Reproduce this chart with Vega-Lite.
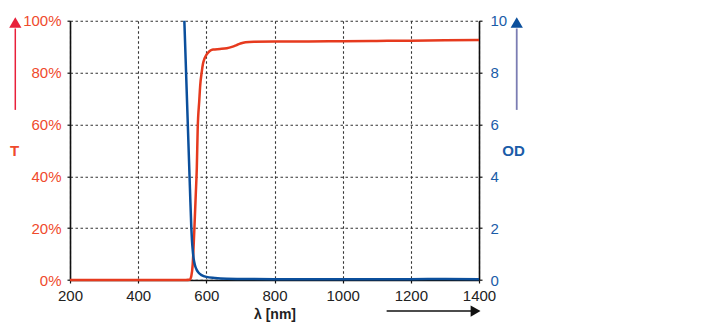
{
  "$schema": "https://vega.github.io/schema/vega-lite/v6.json",
  "width": 409,
  "height": 259.3,
  "autosize": "none",
  "padding": {"left": 70, "top": 20.7, "right": 232, "bottom": 42},
  "background": "white",
  "config": {
    "view": {"stroke": null},
    "font": "Liberation Sans",
    "axis": {
      "domainColor": "#111",
      "domainWidth": 1.6,
      "tickColor": "#111",
      "tickSize": 3,
      "tickWidth": 1.2,
      "gridColor": "#333",
      "gridDash": [2.5, 2.5],
      "gridWidth": 1.1,
      "labelFont": "Liberation Sans",
      "labelFontSize": 15,
      "labelFlush": false,
      "labelOverlap": false,
      "titleFont": "Liberation Sans"
    }
  },
  "datasets": {
    "T": [
      {"lam": 200, "T": 0}, {"lam": 400, "T": 0}, {"lam": 540, "T": 0},
      {"lam": 552, "T": 0.002}, {"lam": 556, "T": 0.015}, {"lam": 560, "T": 0.06},
      {"lam": 562, "T": 0.11}, {"lam": 565, "T": 0.2}, {"lam": 569, "T": 0.33},
      {"lam": 572, "T": 0.43}, {"lam": 574.6, "T": 0.58}, {"lam": 579.4, "T": 0.694},
      {"lam": 582, "T": 0.75}, {"lam": 586.3, "T": 0.8}, {"lam": 590, "T": 0.833},
      {"lam": 595, "T": 0.855}, {"lam": 600, "T": 0.868}, {"lam": 606, "T": 0.878},
      {"lam": 612, "T": 0.885}, {"lam": 620, "T": 0.889}, {"lam": 640, "T": 0.891},
      {"lam": 660, "T": 0.894}, {"lam": 675, "T": 0.899}, {"lam": 689, "T": 0.906},
      {"lam": 700, "T": 0.912}, {"lam": 715, "T": 0.917}, {"lam": 740, "T": 0.919},
      {"lam": 800, "T": 0.92}, {"lam": 900, "T": 0.92}, {"lam": 1000, "T": 0.921},
      {"lam": 1100, "T": 0.922}, {"lam": 1200, "T": 0.923}, {"lam": 1300, "T": 0.925},
      {"lam": 1400, "T": 0.926}
    ],
    "OD": [
      {"lam": 535.5, "OD": 10}, {"lam": 552, "OD": 3.5}, {"lam": 556, "OD": 2},
      {"lam": 558, "OD": 1.5}, {"lam": 560, "OD": 1.16}, {"lam": 563, "OD": 0.8},
      {"lam": 566, "OD": 0.6}, {"lam": 571.7, "OD": 0.39}, {"lam": 578, "OD": 0.27},
      {"lam": 586, "OD": 0.19}, {"lam": 600, "OD": 0.12}, {"lam": 625, "OD": 0.08},
      {"lam": 660, "OD": 0.05}, {"lam": 700, "OD": 0.04}, {"lam": 800, "OD": 0.03},
      {"lam": 1000, "OD": 0.03}, {"lam": 1200, "OD": 0.03}, {"lam": 1300, "OD": 0.04},
      {"lam": 1400, "OD": 0.03}
    ]
  },
  "layer": [
    {
      "data": {"name": "T"},
      "mark": {"type": "line", "color": "#e63a1e", "strokeWidth": 2.5, "interpolate": "monotone"},
      "encoding": {
        "x": {
          "field": "lam", "type": "quantitative",
          "scale": {"domain": [200, 1400], "nice": false, "zero": false},
          "axis": {
            "values": [200, 400, 600, 800, 1000, 1200, 1400],
            "format": "d",
            "grid": true,
            "labelColor": "#222",
            "labelPadding": 5,
            "title": "λ [nm]",
            "titleFontSize": 14,
            "titleFontWeight": "bold",
            "titleColor": "#222",
            "titleBaseline": "middle",
            "titleY": 34
          }
        },
        "y": {
          "field": "T", "type": "quantitative",
          "scale": {"domain": [0, 1], "nice": false},
          "axis": {
            "orient": "left",
            "values": [0, 0.2, 0.4, 0.6, 0.8, 1],
            "format": ".0%",
            "grid": true,
            "labelColor": "#ef4a2c",
            "labelPadding": 6,
            "title": "T",
            "titleAngle": 0,
            "titleColor": "#ef4a2c",
            "titleFontSize": 15,
            "titleFontWeight": "bold",
            "titleAlign": "center",
            "titleBaseline": "middle",
            "titleX": -56,
            "titleY": 130
          }
        }
      }
    },
    {
      "data": {"name": "OD"},
      "mark": {"type": "line", "color": "#0b4f9c", "strokeWidth": 2.5, "interpolate": "monotone"},
      "encoding": {
        "x": {"field": "lam", "type": "quantitative"},
        "y": {
          "field": "OD", "type": "quantitative",
          "scale": {"domain": [0, 10], "nice": false},
          "axis": {
            "orient": "right",
            "values": [0, 2, 4, 6, 8, 10],
            "grid": false,
            "labelColor": "#1a5ca8",
            "labelPadding": 8,
            "title": "OD",
            "titleAngle": 0,
            "titleColor": "#1a5ca8",
            "titleFontSize": 15,
            "titleFontWeight": "bold",
            "titleAlign": "center",
            "titleBaseline": "middle",
            "titleX": 34,
            "titleY": 130
          }
        }
      }
    },
    {
      "data": {"values": [{}]},
      "mark": {"type": "rule", "color": "#e8203a", "strokeWidth": 1.5, "clip": false},
      "encoding": {
        "x": {"datum": 39.5, "type": "quantitative"},
        "y": {"datum": 0.656, "type": "quantitative", "scale": {"domain": [0, 1], "nice": false}, "axis": null},
        "y2": {"datum": 0.97}
      }
    },
    {
      "data": {"values": [{}]},
      "mark": {"type": "point", "shape": "triangle-up", "filled": true, "opacity": 1, "color": "#e8203a", "size": 150, "clip": false},
      "encoding": {
        "x": {"datum": 39.5, "type": "quantitative"},
        "y": {"datum": 0.993, "type": "quantitative", "scale": {"domain": [0, 1], "nice": false}, "axis": null}
      }
    },
    {
      "data": {"values": [{}]},
      "mark": {"type": "rule", "color": "#7b7db3", "strokeWidth": 1.8, "clip": false},
      "encoding": {
        "x": {"datum": 1510.7, "type": "quantitative"},
        "y": {"datum": 0.656, "type": "quantitative", "scale": {"domain": [0, 1], "nice": false}, "axis": null},
        "y2": {"datum": 0.97}
      }
    },
    {
      "data": {"values": [{}]},
      "mark": {"type": "point", "shape": "triangle-up", "filled": true, "opacity": 1, "color": "#0b4f9c", "size": 150, "clip": false},
      "encoding": {
        "x": {"datum": 1510.7, "type": "quantitative"},
        "y": {"datum": 0.993, "type": "quantitative", "scale": {"domain": [0, 1], "nice": false}, "axis": null}
      }
    },
    {
      "data": {"values": [{}]},
      "mark": {"type": "rule", "color": "#111", "strokeWidth": 1.5, "clip": false},
      "encoding": {
        "x": {"datum": 1129, "type": "quantitative"},
        "x2": {"datum": 1385},
        "y": {"datum": -0.12, "type": "quantitative", "scale": {"domain": [0, 1], "nice": false}, "axis": null}
      }
    },
    {
      "data": {"values": [{}]},
      "mark": {"type": "point", "shape": "triangle-right", "filled": true, "opacity": 1, "color": "#111", "size": 130, "clip": false},
      "encoding": {
        "x": {"datum": 1390, "type": "quantitative"},
        "y": {"datum": -0.12, "type": "quantitative", "scale": {"domain": [0, 1], "nice": false}, "axis": null}
      }
    }
  ],
  "resolve": {"scale": {"y": "independent"}}
}
